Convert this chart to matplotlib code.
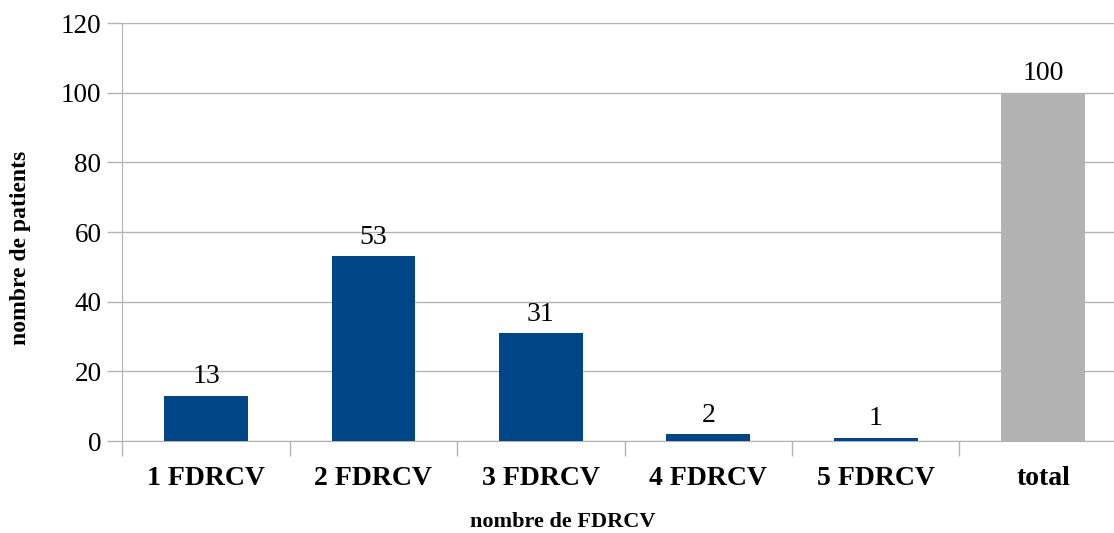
import numpy as np
import matplotlib.pyplot as plt

plt.rcParams['font.family'] = ['Liberation Serif', 'DejaVu Serif']

categories = ["1 FDRCV", "2 FDRCV", "3 FDRCV", "4 FDRCV", "5 FDRCV", "total"]
values = [13, 53, 31, 2, 1, 100]
colors = ["#004586"] * 5 + ["#b3b3b3"]

fig = plt.figure(figsize=(11.14, 5.33), dpi=100)
# the plot area runs a little past the right edge of the picture
ax = fig.add_axes([0.1098, 0.1726, 0.9017, 0.7842])

x = np.arange(len(categories))
ax.bar(x, values, width=0.5, color=colors, zorder=3)
for xi, v in zip(x, values):
    ax.text(xi, v + 1.8, str(v), ha='center', va='bottom', fontsize=20)

ax.set_xlim(-0.5, len(categories) - 0.5)
ax.set_ylim(0, 120)
ax.set_yticks(range(0, 121, 20))
ax.yaxis.grid(True, color='#b3b3b3', linewidth=1, zorder=0)

ax.set_xticks(x)
ax.set_xticklabels(categories, fontsize=20, fontweight='bold')
ax.set_xticks(np.arange(-0.5, len(categories), 1), minor=True)
ax.tick_params(axis='x', which='major', length=0, pad=18)
ax.tick_params(axis='x', which='minor', length=11, color='#b3b3b3', width=1)
ax.tick_params(axis='y', labelsize=19.5, length=11, color='#b3b3b3', width=1, pad=4)

for s in ['top', 'right']:
    ax.spines[s].set_visible(False)
for s in ['left', 'bottom']:
    ax.spines[s].set_color('#b3b3b3')

ax.set_xlabel("nombre de FDRCV", fontsize=16, fontweight='bold', va='center')
ax.xaxis.set_label_coords(0.438, -0.194)
ax.set_ylabel("nombre de patients", fontsize=17, fontweight='bold', va='center')
ax.yaxis.set_label_coords(-0.1015, 0.462)

fig.savefig("out.png", dpi=100)
